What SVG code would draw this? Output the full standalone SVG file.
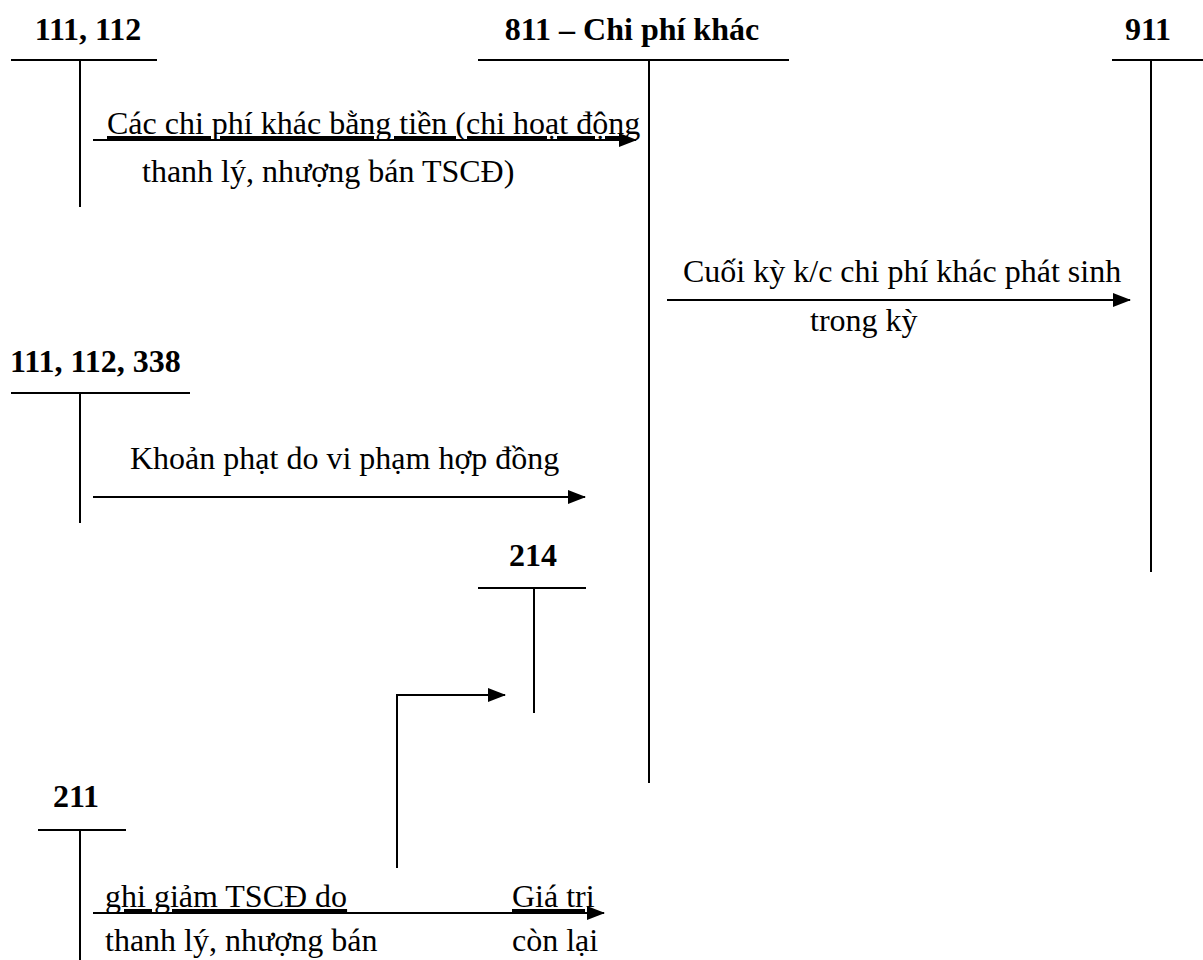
<svg xmlns="http://www.w3.org/2000/svg" width="1203" height="960" viewBox="0 0 1203 960">
<style>
.ln{stroke:#000;stroke-width:2;fill:none}
.hd{font-family:"Liberation Serif","Times New Roman",serif;font-weight:bold;font-size:32px;fill:#000}
.tx{font-family:"Liberation Serif","Times New Roman",serif;font-size:32px;fill:#000}
.u{text-decoration:underline}
</style>
<defs>
<marker id="ah" markerUnits="userSpaceOnUse" markerWidth="18" markerHeight="14" refX="17" refY="7" orient="auto">
<path d="M0,0 L18,7 L0,14 Z" fill="#000"/>
</marker>
</defs>
<rect width="1203" height="960" fill="#fff"/>
<g id="acc-111-112">
<text class="hd" x="88" y="40" text-anchor="middle">111, 112</text>
<line class="ln" x1="11" y1="60" x2="157" y2="60"/>
<line class="ln" x1="80" y1="60" x2="80" y2="207"/>
</g>
<g id="acc-811">
<text class="hd" x="632" y="40" text-anchor="middle">811 – Chi phí khác</text>
<line class="ln" x1="478" y1="60" x2="789" y2="60"/>
<line class="ln" x1="649" y1="60" x2="649" y2="783"/>
</g>
<g id="acc-911">
<text class="hd" x="1148" y="40" text-anchor="middle">911</text>
<line class="ln" x1="1112" y1="60" x2="1203" y2="60"/>
<line class="ln" x1="1151" y1="60" x2="1151" y2="572"/>
</g>
<g id="acc-111-112-338">
<text class="hd" x="10" y="372">111, 112, 338</text>
<line class="ln" x1="11" y1="393" x2="190" y2="393"/>
<line class="ln" x1="80" y1="393" x2="80" y2="523"/>
</g>
<g id="acc-214">
<text class="hd" x="533" y="566" text-anchor="middle">214</text>
<line class="ln" x1="478" y1="588" x2="586" y2="588"/>
<line class="ln" x1="534" y1="588" x2="534" y2="713"/>
</g>
<g id="acc-211">
<text class="hd" x="76" y="807" text-anchor="middle">211</text>
<line class="ln" x1="38" y1="830" x2="126" y2="830"/>
<line class="ln" x1="80" y1="830" x2="80" y2="960"/>
</g>
<g id="connectors">
<line class="ln" x1="93" y1="140" x2="636" y2="140" marker-end="url(#ah)"/>
<line class="ln" x1="667" y1="300" x2="1130" y2="300" marker-end="url(#ah)"/>
<line class="ln" x1="93" y1="497" x2="585" y2="497" marker-end="url(#ah)"/>
<polyline class="ln" points="397,868 397,695 505,695" marker-end="url(#ah)"/>
<line class="ln" x1="93" y1="913" x2="604" y2="913" marker-end="url(#ah)"/>
</g>
<g id="labels">
<text class="tx u" x="107" y="134">Các chi phí khác bằng tiền (chi hoạt động</text>
<text class="tx" x="142" y="182">thanh lý, nhượng bán TSCĐ)</text>
<text class="tx" x="683" y="282">Cuối kỳ k/c chi phí khác phát sinh</text>
<text class="tx" x="810" y="331">trong kỳ</text>
<text class="tx" x="130" y="469">Khoản phạt do vi phạm hợp đồng</text>
<text class="tx u" x="105" y="907">ghi giảm TSCĐ do</text>
<text class="tx u" x="512" y="907">Giá trị</text>
<text class="tx" x="105" y="951">thanh lý, nhượng bán</text>
<text class="tx" x="512" y="951">còn lại</text>
</g>
</svg>
